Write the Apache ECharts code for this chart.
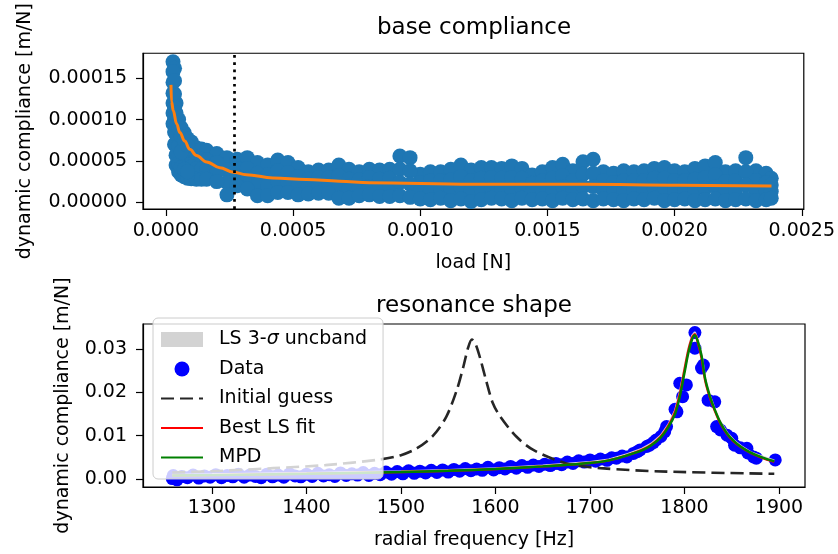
<!DOCTYPE html>
<html>
<head>
<meta charset="utf-8">
<script src="https://cdn.jsdelivr.net/npm/echarts@6/dist/echarts.min.js"></script>
<style>
  html, body { margin: 0; padding: 0; background: #fff; }
  #chart { width: 838px; height: 554px; }
</style>
</head>
<body>
<div id="chart"></div>
<script>
// ---- base compliance: load in uN, compliance in um/N ----
// the measurement cloud is read as four rows of points per load step
const loadUN = [28, 34, 40, 50, 60, 72, 85, 100, 120, 140, 160, 200, 240, 280, 320, 360, 400, 440, 480, 520,
  560, 600, 640, 680, 720, 760, 800, 840, 880, 920, 960, 1000, 1040, 1080, 1120, 1160, 1200, 1240, 1280, 1320,
  1360, 1400, 1440, 1480, 1520, 1560, 1600, 1640, 1680, 1720, 1760, 1800, 1840, 1880, 1920, 1960, 2000, 2040,
  2080, 2120, 2160, 2200, 2240, 2280, 2320, 2360, 2380]
const cloudTop = [170, 162, 120, 100, 90, 84, 77, 73, 66, 64.5, 63, 59, 54, 52, 54, 48, 45, 51, 48, 42,
  37, 39, 39, 45, 40, 37, 40, 39, 40, 56, 54, 34, 37, 37, 40, 45, 39, 42, 42, 41,
  44, 41, 33, 37, 42, 46, 38, 49, 52, 37, 35, 38, 37, 38, 41, 42, 38, 37,
  41, 44, 48, 37, 38, 54, 38, 35, 29]
const cloudUpper = [145, 131, 95, 79, 71, 66, 61, 58, 53, 52, 51, 48, 39, 41, 41, 35, 33, 38, 36, 31,
  28, 30, 30, 32, 28, 27, 30, 28, 29, 40, 38, 24, 26, 26, 27, 31, 26, 29, 30, 29,
  30, 29, 23, 26, 29, 32, 26, 34, 35, 26, 24, 26, 26, 26, 29, 29, 26, 26,
  28, 30, 33, 25, 26, 37, 26, 24, 21]
const cloudLower = [120, 100, 70, 58, 52, 49, 45, 43, 41, 40, 40, 36, 24, 31, 29, 21, 20, 25, 24, 20,
  19, 20, 20, 18, 17, 18, 19, 18, 18, 24, 22, 14, 14, 16, 15, 18, 14, 16, 17, 16,
  16, 17, 13, 15, 15, 19, 15, 19, 19, 15, 14, 14, 15, 15, 17, 15, 15, 15,
  15, 17, 19, 14, 15, 21, 14, 14, 13]
const cloudBottom = [95, 70, 45, 37, 33, 31, 29, 28.5, 28, 28, 28, 25, 9, 20, 16, 8, 8, 12, 12, 9,
  10, 11, 11, 5, 5, 8, 9, 7, 7, 8, 6, 4, 3, 5, 2, 4, 1, 3, 5, 4,
  2, 5, 3, 4, 2, 5, 3, 4, 2, 4, 3, 2, 4, 3, 5, 2, 3, 4,
  2, 3, 4, 2, 3, 4, 2, 3, 5]
// extra points in the steep low-load column
const startLoadUN = [28, 28, 28, 34, 34, 34, 40, 40, 40, 50, 50, 50, 60, 60, 60, 72, 72, 85, 85]
const startCompl = [158, 132, 108, 147, 115, 85, 108, 82, 57, 90, 68, 47, 80, 61, 42, 75, 40, 69, 37]
const fitLoadUN = [20, 22, 29, 42, 55, 74, 94, 120, 160, 212, 264, 316, 421, 552, 682, 800, 1204, 1651, 2016, 2381]
const fitCompl = [142, 122, 111, 95, 84.5, 74, 64, 56.6, 48.8, 41.9, 36.4, 33.4, 29.4, 27.6, 25.6, 23.6, 21.7, 21.7, 20.5, 19.8]
const thresholdLoad = 0.000267
const loadTicks = [0, 0.0005, 0.001, 0.0015, 0.002, 0.0025]
const complTicks = [0, 0.00005, 0.0001, 0.00015]

// ---- resonance shape ----
const dataFreq = [1258, 1259, 1263, 1268, 1274, 1280, 1286, 1292, 1298, 1304, 1310, 1316, 1322, 1328, 1334, 1340,
  1346, 1352, 1358, 1364, 1370, 1376, 1382, 1388, 1394, 1400, 1406, 1412, 1418, 1424, 1430, 1436, 1442, 1448,
  1454, 1460, 1466, 1472, 1478, 1484, 1490, 1496, 1502, 1508, 1514, 1520, 1526, 1532, 1538, 1544, 1550, 1556,
  1562, 1568, 1574, 1580, 1586, 1592, 1598, 1604, 1610, 1616, 1622, 1628, 1634, 1640, 1646, 1652, 1658, 1664,
  1670, 1676, 1682, 1688, 1694, 1700, 1706, 1711, 1718, 1723, 1728, 1734, 1739, 1746, 1750, 1753, 1760, 1763,
  1767, 1770, 1775, 1779, 1781, 1790, 1792, 1795, 1798, 1802, 1811, 1811, 1818, 1820, 1825, 1832, 1834, 1838,
  1845, 1850, 1853, 1859, 1866, 1867, 1873, 1876, 1896]
const dataCompl = [0.0001, 0.0008, -0.0002, 0.0006, 0.0003, 0.0009, 0.0002, 0.0007, 0.0004, 0.0010, 0.0003, 0.0008,
  0.0005, 0.0011, 0.0004, 0.0009, 0.0006, 0.0003, 0.0011, 0.0005, 0.0009, 0.0004, 0.0012, 0.0007, 0.0005, 0.0011,
  0.0006, 0.0013, 0.0007, 0.0010, 0.0006, 0.0014, 0.0008, 0.0012, 0.0009, 0.0015, 0.0008, 0.0013, 0.0010, 0.0016,
  0.0011, 0.0017, 0.0012, 0.0019, 0.0013, 0.0018, 0.0014, 0.0020, 0.0015, 0.0021, 0.0016, 0.0022, 0.0018, 0.0024,
  0.0019, 0.0023, 0.0020, 0.0027, 0.0021, 0.0026, 0.0023, 0.0029, 0.0025, 0.0031, 0.0027, 0.0032, 0.0029, 0.0034,
  0.0031, 0.0036, 0.0033, 0.0039, 0.0036, 0.0042, 0.0039, 0.0044, 0.0041, 0.0046, 0.0043, 0.0049, 0.0048, 0.0053,
  0.0051, 0.0059, 0.0063, 0.0067, 0.0075, 0.0078, 0.0084, 0.0090, 0.0098, 0.0109, 0.0121, 0.0161, 0.0155, 0.0221,
  0.0190, 0.0217, 0.0338, 0.0302, 0.0256, 0.0263, 0.0182, 0.0178, 0.0121, 0.0113, 0.0101, 0.0094, 0.0078, 0.0072,
  0.0071, 0.0060, 0.0051, 0.0048, 0.0044]
const fitFreq = [1258, 1300, 1400, 1500, 1550, 1600, 1650, 1700, 1720, 1740, 1755, 1765, 1775, 1783, 1790, 1795,
  1800, 1804, 1808, 1811, 1814, 1818, 1822, 1827, 1832, 1838, 1845, 1852, 1860, 1870, 1882, 1895]
const mpdFit = [0.0008, 0.0009, 0.0012, 0.0016, 0.0019, 0.0023, 0.0029, 0.0037, 0.0043, 0.0055, 0.0066, 0.0078,
  0.0096, 0.0120, 0.0150, 0.0190, 0.0245, 0.0290, 0.0322, 0.0332, 0.0318, 0.0285, 0.0230, 0.0190, 0.0160, 0.0130,
  0.0105, 0.0088, 0.0074, 0.0061, 0.0050, 0.0041]
const lsFit = [0.0008, 0.0009, 0.0012, 0.0016, 0.0019, 0.0023, 0.0029, 0.0037, 0.0043, 0.0055, 0.0067, 0.0079,
  0.0098, 0.0123, 0.0155, 0.0196, 0.0252, 0.0296, 0.0326, 0.0334, 0.0316, 0.0280, 0.0226, 0.0187, 0.0158, 0.0128,
  0.0104, 0.0087, 0.0073, 0.0060, 0.0049, 0.0040]
const uncHigh = [0.0010, 0.0011, 0.0014, 0.0018, 0.0021, 0.0025, 0.0031, 0.0039, 0.0045, 0.0058, 0.0070, 0.0082,
  0.0101, 0.0126, 0.0158, 0.0200, 0.0257, 0.0301, 0.0331, 0.0339, 0.0322, 0.0288, 0.0232, 0.0192, 0.0162, 0.0132,
  0.0107, 0.0090, 0.0076, 0.0062, 0.0052, 0.0043]
const guessFreq = [1258, 1300, 1365, 1420, 1478, 1500, 1517, 1534, 1548, 1559, 1566, 1571, 1575, 1579, 1584, 1590,
  1597, 1605, 1622, 1640, 1675, 1711, 1781, 1895]
const guessCompl = [0.0015, 0.0018, 0.0025, 0.0032, 0.0045, 0.0055, 0.0071, 0.0100, 0.0144, 0.0205, 0.0259, 0.0303,
  0.0322, 0.0311, 0.0277, 0.0228, 0.0176, 0.0144, 0.0098, 0.0067, 0.0036, 0.0025, 0.0017, 0.0012]
const freqTicks = [1300, 1400, 1500, 1600, 1700, 1800, 1900]
const resTicks = [0, 0.01, 0.02, 0.03]

const font = 'DejaVu Sans'
const uN = 1e-6

const zip = (xs, ys, k) => xs.map((x, i) => [x * k, ys[i] * k])

const chart = echarts.init(document.getElementById('chart'))

const axisCommon = (ticks, fmt, margin) => ({
  type: 'value',
  splitLine: { show: false },
  axisLine: { show: true, onZero: false, lineStyle: { color: '#000', width: 1.2 } },
  axisTick: { show: true, length: 7, customValues: ticks, lineStyle: { color: '#000', width: 1.2 } },
  axisLabel: { customValues: ticks, formatter: fmt, margin, color: '#000', fontSize: 19, fontFamily: font },
  nameLocation: 'middle',
  nameTextStyle: { color: '#000', fontSize: 19, fontFamily: font }
})

const noSymbol = { itemStyle: { opacity: 0 } }

const cloudPoints = [cloudTop, cloudUpper, cloudLower, cloudBottom]
  .flatMap(row => zip(loadUN, row, uN))
  .concat(zip(startLoadUN, startCompl, uN))

const option = {
  animation: false,
  title: [
    { text: 'base compliance', left: 474, top: 17, textAlign: 'center', padding: 0,
      textStyle: { fontSize: 23, fontWeight: 'normal', color: '#000', fontFamily: font } },
    { text: 'resonance shape', left: 474, top: 295, textAlign: 'center', padding: 0,
      textStyle: { fontSize: 23, fontWeight: 'normal', color: '#000', fontFamily: font } }
  ],
  grid: [
    { left: 143, top: 47, width: 662, height: 162, show: true, borderColor: '#000', borderWidth: 1.2 },
    { left: 143, top: 324, width: 662, height: 163, show: true, borderColor: '#000', borderWidth: 1.2 }
  ],
  xAxis: [
    { ...axisCommon(loadTicks, v => v.toFixed(4), 13), gridIndex: 0, min: -0.00009, max: 0.002508,
      name: 'load [N]', nameGap: 45 },
    { ...axisCommon(freqTicks, v => String(v), 12), gridIndex: 1, min: 1227, max: 1927.5,
      name: 'radial frequency [Hz]', nameGap: 44 }
  ],
  yAxis: [
    { ...axisCommon(complTicks, v => v.toFixed(5), 16), gridIndex: 0, min: -0.0000081, max: 0.0001802,
      name: 'dynamic compliance [m/N]', nameGap: 108 },
    { ...axisCommon(resTicks, v => v.toFixed(2), 16), gridIndex: 1, min: -0.00185, max: 0.03577,
      name: 'dynamic compliance [m/N]', nameGap: 70 }
  ],
  legend: {
    orient: 'vertical',
    left: 153,
    top: 318,
    itemWidth: 42,
    itemHeight: 15,
    itemGap: 10.5,
    padding: [12, 16, 12, 7],
    backgroundColor: 'rgba(255,255,255,0.8)',
    borderColor: '#cccccc',
    borderWidth: 1,
    borderRadius: 5,
    selectedMode: false,
    textStyle: {
      color: '#000', fontSize: 19, fontFamily: font, padding: [0, 0, 0, 11],
      rich: {
        n: { fontSize: 19, fontFamily: font, color: '#000' },
        s: { fontSize: 19, fontFamily: font, color: '#000', fontStyle: 'italic' }
      }
    },
    formatter: name => name === 'LS 3-σ uncband' ? '{n|LS 3-}{s|σ}{n| uncband}' : name,
    data: [
      { name: 'LS 3-σ uncband', icon: 'rect', itemStyle: { color: '#d3d3d3', opacity: 1, borderWidth: 0 } },
      { name: 'Data', icon: 'circle', itemStyle: { color: '#0000ff', opacity: 1, borderWidth: 0 } },
      { name: 'Initial guess', ...noSymbol },
      { name: 'Best LS fit', ...noSymbol },
      { name: 'MPD', ...noSymbol }
    ]
  },
  series: [
    // top: measurement cloud, fit and threshold
    { type: 'scatter', xAxisIndex: 0, yAxisIndex: 0, symbolSize: 15,
      itemStyle: { color: '#1f77b4', opacity: 1, borderWidth: 0 }, data: cloudPoints },
    { type: 'line', xAxisIndex: 0, yAxisIndex: 0, symbol: 'none', smooth: 0.4, smoothMonotone: 'x',
      lineStyle: { color: '#ff7f0e', width: 3 }, data: zip(fitLoadUN, fitCompl, uN),
      markLine: { symbol: 'none', silent: true, precision: 8, label: { show: false },
        lineStyle: { color: '#000', type: [2.7, 4.5], width: 2.7 },
        data: [{ xAxis: thresholdLoad }] } },

    // bottom: resonance (the 3-sigma band is thinner than the fit lines drawn over it)
    { name: 'LS 3-σ uncband', type: 'line', xAxisIndex: 1, yAxisIndex: 1, symbol: 'none', silent: true,
      lineStyle: { color: '#d3d3d3', width: 2 }, itemStyle: { color: '#d3d3d3' },
      data: zip(fitFreq, uncHigh, 1) },
    { name: 'Data', type: 'scatter', xAxisIndex: 1, yAxisIndex: 1, symbolSize: 13,
      itemStyle: { color: '#0000ff', opacity: 1, borderWidth: 0 }, data: zip(dataFreq, dataCompl, 1) },
    { name: 'Initial guess', type: 'line', xAxisIndex: 1, yAxisIndex: 1, symbol: 'none', smooth: 0.3,
      lineStyle: { color: '#262626', width: 2.6, type: [13, 6] }, itemStyle: { color: '#262626' },
      data: zip(guessFreq, guessCompl, 1) },
    { name: 'Best LS fit', type: 'line', xAxisIndex: 1, yAxisIndex: 1, symbol: 'none', smooth: 0.3,
      lineStyle: { color: '#ff0000', width: 2.4 }, itemStyle: { color: '#ff0000' },
      data: zip(fitFreq, lsFit, 1) },
    { name: 'MPD', type: 'line', xAxisIndex: 1, yAxisIndex: 1, symbol: 'none', smooth: 0.3,
      lineStyle: { color: '#008000', width: 2.4 }, itemStyle: { color: '#008000' },
      data: zip(fitFreq, mpdFit, 1) }
  ]
}

chart.setOption(option)
</script>
</body>
</html>
